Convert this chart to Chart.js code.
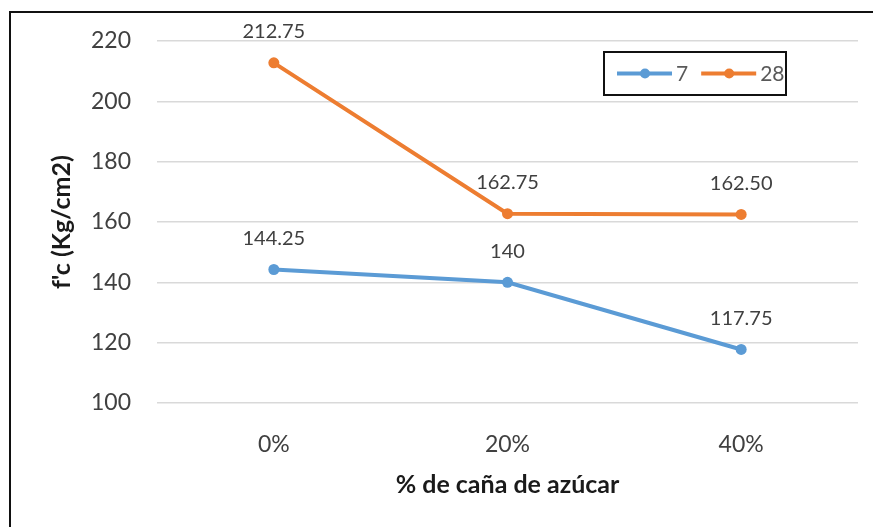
<!DOCTYPE html>
<html>
<head>
<meta charset="utf-8">
<script src="https://cdn.jsdelivr.net/npm/chart.js@4/dist/chart.umd.min.js"></script>
<style>
  html, body { margin: 0; padding: 0; background: #fff; }
  #wrap { position: relative; width: 873px; height: 527px; overflow: hidden; }
  #frame { position: absolute; left: 9px; top: 11px; right: -4px; bottom: -4px; border-left: 2px solid #111; border-top: 2px solid #111; }
  canvas { position: absolute; left: 0; top: 0; }
</style>
</head>
<body>
<div id="wrap">
  <div id="frame"></div>
  <canvas id="chart" width="873" height="527"></canvas>
</div>
<script>
"use strict";

const categories = ["0%", "20%", "40%"];
const days7 = [144.25, 140, 117.75];
const days28 = [212.75, 162.75, 162.5];
const labels7 = ["144.25", "140", "117.75"];
const labels28 = ["212.75", "162.75", "162.50"];
const seriesNames = ["7", "28"];

const FONT = "Lato, 'Open Sans', sans-serif";
const BLUE = "#5b9bd5";
const ORANGE = "#ed7d31";

// value labels above each point
const pointLabels = {
  id: "pointLabels",
  afterDatasetsDraw(chart) {
    const ctx = chart.ctx;
    ctx.save();
    ctx.font = "20px " + FONT;
    ctx.fillStyle = "#404040";
    ctx.textAlign = "center";
    ctx.textBaseline = "bottom";
    chart.data.datasets.forEach((ds, i) => {
      chart.getDatasetMeta(i).data.forEach((pt, j) => {
        ctx.fillText(ds.valueLabels[j], pt.x, pt.y - 21);
      });
    });
    ctx.restore();
  },
};

// boxed legend, top right
const boxLegend = {
  id: "boxLegend",
  afterDraw(chart) {
    const ctx = chart.ctx;
    const x0 = 604, y0 = 52, w = 182, h = 43;
    ctx.save();
    ctx.fillStyle = "#fff";
    ctx.fillRect(x0, y0, w, h);
    ctx.strokeStyle = "#111";
    ctx.lineWidth = 2;
    ctx.strokeRect(x0, y0, w, h);
    const cy = y0 + h / 2;
    let x = x0 + 13;
    ctx.font = "21px " + FONT;
    ctx.textBaseline = "middle";
    ctx.textAlign = "left";
    chart.data.datasets.forEach((ds) => {
      ctx.strokeStyle = ds.borderColor;
      ctx.lineWidth = 4;
      ctx.beginPath();
      ctx.moveTo(x, cy);
      ctx.lineTo(x + 55, cy);
      ctx.stroke();
      ctx.fillStyle = ds.borderColor;
      ctx.beginPath();
      ctx.arc(x + 28, cy, 5, 0, Math.PI * 2);
      ctx.fill();
      ctx.fillStyle = "#595959";
      ctx.fillText(ds.label, x + 59, cy + 1);
      x += 59 + ctx.measureText(ds.label).width + 13;
    });
    ctx.restore();
  },
};

new Chart(document.getElementById("chart"), {
  type: "line",
  data: {
    labels: categories,
    datasets: [
      { label: seriesNames[0], data: days7, valueLabels: labels7, borderColor: BLUE, backgroundColor: BLUE },
      { label: seriesNames[1], data: days28, valueLabels: labels28, borderColor: ORANGE, backgroundColor: ORANGE },
    ],
  },
  options: {
    responsive: false,
    animation: false,
    layout: { padding: { left: 12, top: 41, right: 15, bottom: 0 } },
    elements: {
      line: { borderWidth: 4, tension: 0 },
      point: { radius: 5.5, borderWidth: 0 },
    },
    plugins: { legend: { display: false }, tooltip: { enabled: false } },
    scales: {
      x: {
        offset: true,
        grid: { display: false },
        border: { display: false },
        ticks: { font: { family: FONT, size: 23 }, color: "#404040", padding: 20 },
        title: {
          display: true,
          text: "% de caña de azúcar",
          font: { family: FONT, size: 25, weight: "bold" },
          color: "#1a1a1a",
          padding: { top: 0, bottom: 27 },
        },
        afterFit: (s) => { s.height = 124; },
      },
      y: {
        min: 100,
        max: 220,
        ticks: { stepSize: 20, font: { family: FONT, size: 23 }, color: "#404040", padding: 26 },
        grid: { color: "#d9d9d9", lineWidth: 1.5, drawTicks: false },
        border: { display: false },
        title: {
          display: true,
          text: "f'c (Kg/cm2)",
          font: { family: FONT, size: 25, weight: "bold" },
          color: "#1a1a1a",
          padding: { top: 35, bottom: 0 },
        },
        afterFit: (s) => { s.width = 145; },
      },
    },
  },
  plugins: [pointLabels, boxLegend],
});
</script>
</body>
</html>
